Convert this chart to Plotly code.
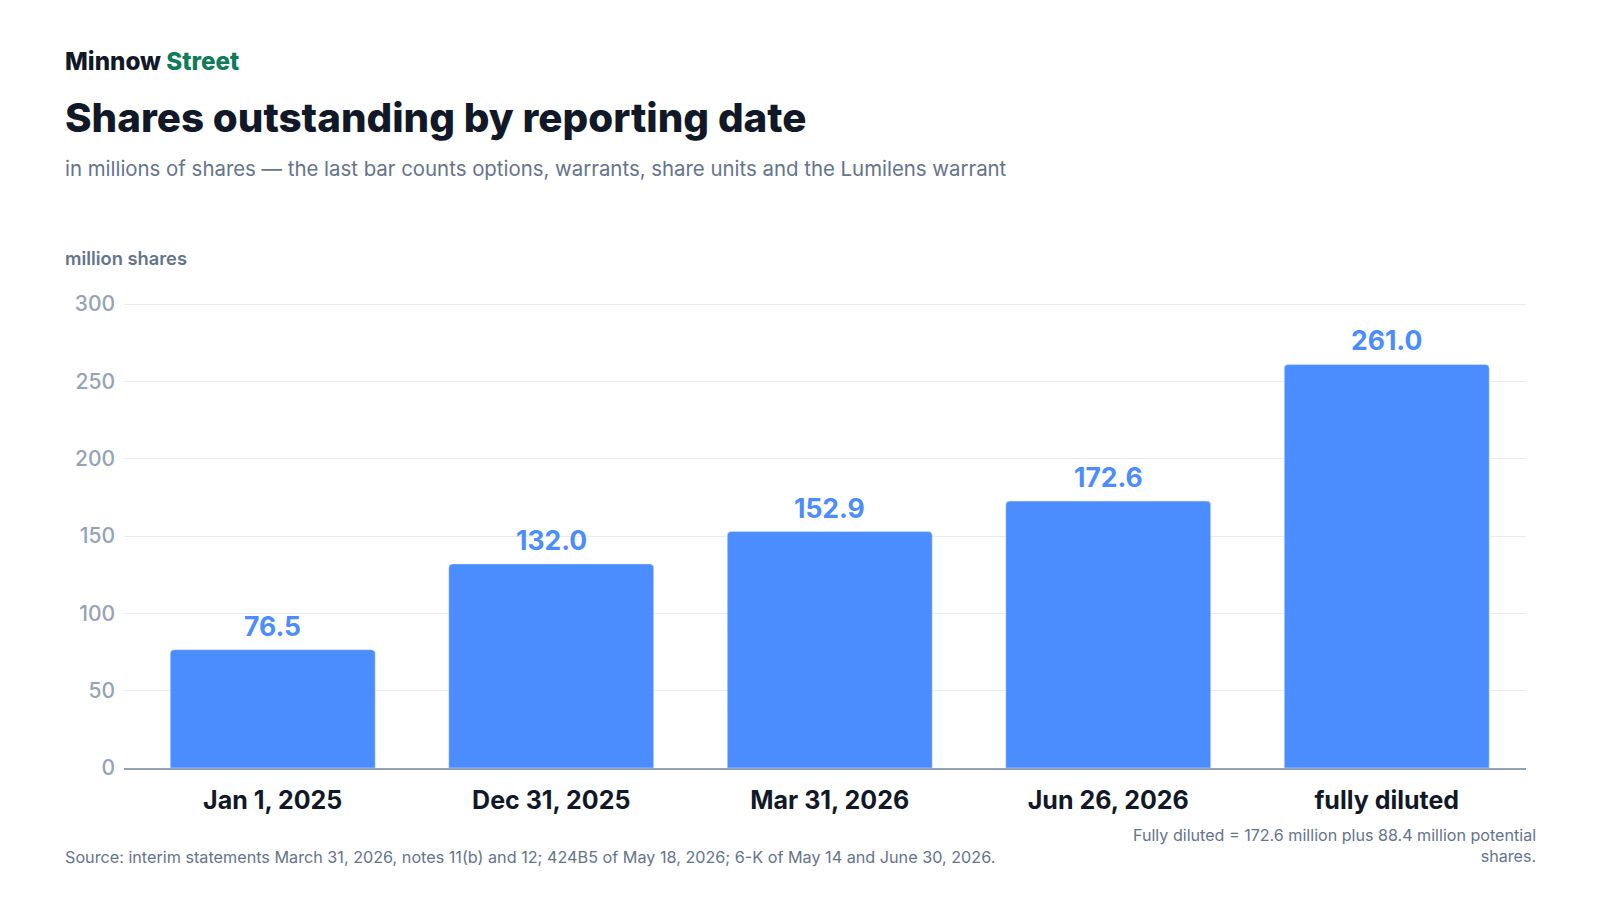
import plotly.graph_objects as go

# data
dates = ["Jan 1, 2025", "Dec 31, 2025", "Mar 31, 2026", "Jun 26, 2026", "fully diluted"]
shares_m = [76.5, 132.0, 152.9, 172.6, 261.0]
y_ticks = [0, 50, 100, 150, 200, 250, 300]

BLUE = "#4b8cff"
DARK = "#111827"
GREEN = "#0f7b5a"
GREY = "#64748b"
LIGHT = "#94a3b8"
FONT = "Inter"

# the page adds an 8px body margin, so the figure is 16px smaller than the window
OFF = 8
W, H = 1584, 884
L, R, T, B = 116, 66, 293, 124


def px(x, y):
    # window pixels -> paper coords
    x, y = x - OFF, y - OFF
    return (x - L) / (W - L - R), (H - B - y) / (H - T - B)


fig = go.Figure(go.Bar(
    x=dates,
    y=shares_m,
    marker=dict(color=BLUE, cornerradius=4),
    hoverinfo="skip",
))

notes = [
    (63, 62, f"Minnow <span style='color:{GREEN}'>Street</span>", 24.2, DARK, 800),
    (63, 118, "Shares outstanding by reporting date", 40.3, DARK, 800),
    (63, 168.5, "in millions of shares — the last bar counts options, warrants, share units and the Lumilens warrant", 20.4, GREY, 400),
    (63, 257.5, "million shares", 18.3, GREY, 600),
    (63, 857, "Source: interim statements March 31, 2026, notes 11(b) and 12; 424B5 of May 18, 2026; 6-K of May 14 and June 30, 2026.", 16.2, GREY, 400),
]
anns = []
for x, y, txt, size, col, wt in notes:
    xp, yp = px(x, y)
    anns.append(dict(x=xp, y=yp, xref="paper", yref="paper", text=txt, showarrow=False,
                     xanchor="left", yanchor="middle", align="left",
                     font=dict(family=FONT, size=size, color=col, weight=wt)))

xp, yp = px(1538, 845.5)
anns.append(dict(x=xp, y=yp, xref="paper", yref="paper", showarrow=False,
                 text="Fully diluted = 172.6 million plus 88.4 million potential<br>shares.",
                 xanchor="right", yanchor="middle", align="right",
                 font=dict(family=FONT, size=16.1, color=GREY)))

# value labels above the bars
for d, v in zip(dates, shares_m):
    anns.append(dict(x=d, y=v, xref="x", yref="y", text=f"{v:.1f}", showarrow=False,
                     xanchor="center", yanchor="middle", yshift=24,
                     font=dict(family=FONT, size=26.5, color=BLUE, weight="bold")))

fig.update_layout(
    width=W, height=H,
    margin=dict(l=L, r=R, t=T, b=B),
    paper_bgcolor="white", plot_bgcolor="white",
    bargap=0.264,
    showlegend=False,
    annotations=anns,
    font=dict(family=FONT),
    xaxis=dict(
        range=[-0.534, 4.5],
        tickfont=dict(family=FONT, size=25, color=DARK, weight="bold"),
        showline=True, linecolor=LIGHT, linewidth=2,
        ticks="", showgrid=False, ticklabelstandoff=9,
    ),
    yaxis=dict(
        range=[0, 302], tickvals=y_ticks,
        tickfont=dict(family=FONT, size=21, color=LIGHT, weight=500),
        showgrid=True, gridcolor="#e8ecf1", gridwidth=1,
        zeroline=False, showline=False, ticks="", ticklabelstandoff=8,
    ),
)

fig.write_html("out.html")
